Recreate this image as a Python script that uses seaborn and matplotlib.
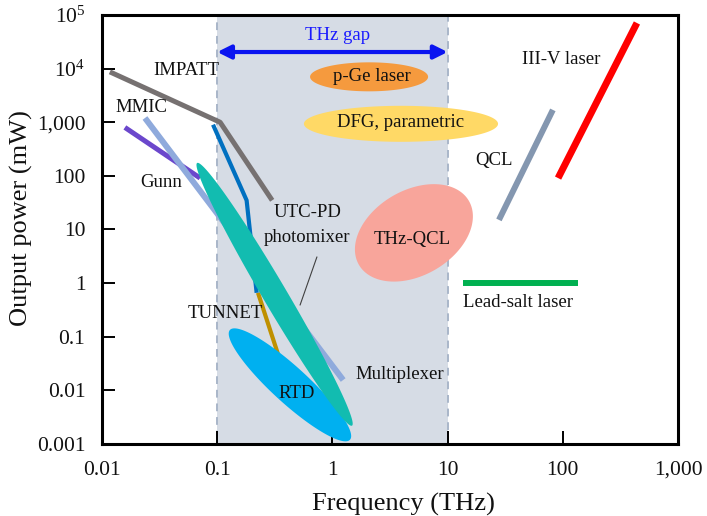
import numpy as np
import pandas as pd
import matplotlib
matplotlib.use("Agg")
import matplotlib.pyplot as plt
from matplotlib.patches import Rectangle
import seaborn as sns

# ---- source lines (frequency in THz, output power in mW) ----
impatt_freq = [0.0117, 0.106, 0.30]
impatt_power = [8700, 1000, 35]

utc_freq = [0.092, 0.18, 0.22]
utc_power = [900, 35, 0.66]

tunnet_freq = [0.226, 0.35]
tunnet_power = [0.66, 0.037]

gunn_freq = [0.0158, 0.071]
gunn_power = [800, 91]

mmic_freq = [0.0236, 1.24]
mmic_power = [1200, 0.0156]

qcl_freq = [27.9, 82]
qcl_power = [15.1, 1700]

iiiv_freq = [91, 440]
iiiv_power = [91, 71000]

leadsalt_freq = [13.6, 135]
leadsalt_power = [1.0, 1.0]

# ---- source regions: two tip points (freq, power) and a thickness ----
photomixer_tips = [(0.067, 174), (1.48, 0.0022)]
rtd_tips = [(0.129, 0.134), (1.42, 0.0012)]
thzqcl_tips = [(1.70, 2.19), (15.3, 34.2)]
pge_tips = [(0.64, 7030), (6.77, 7030)]
dfg_tips = [(0.566, 935), (27.4, 935)]

# ---- axes ----
x_ticks = [0.01, 0.1, 1, 10, 100, 1000]
x_tick_labels = ["0.01", "0.1", "1", "10", "100", "1,000"]
y_ticks = [1e-3, 1e-2, 1e-1, 1, 10, 100, 1e3, 1e4, 1e5]
y_tick_labels = ["0.001", "0.01", "0.1", "1", "10", "100", "1,000",
                 r"$\mathregular{10^4}$", r"$\mathregular{10^5}$"]
gap_range = [0.1, 10]

sns.set_theme(style="ticks")
plt.rcParams["font.family"] = ["Liberation Serif", "DejaVu Serif"]
plt.rcParams["mathtext.fontset"] = "custom"
plt.rcParams["mathtext.rm"] = "Liberation Serif"

fig = plt.figure(figsize=(7.07, 5.16), dpi=100)
ax = fig.add_axes([102 / 707, 1 - 444 / 516, 576 / 707, 429 / 516])
ax.set_xscale("log")
ax.set_yscale("log")
ax.set_xlim(0.01, 1000)
ax.set_ylim(1e-3, 1e5)

# THz gap band
ax.add_patch(Rectangle((gap_range[0], 1e-3), gap_range[1] - gap_range[0], 1e5 - 1e-3,
                       facecolor="#d6dce5", edgecolor="#a9b6c9", lw=1.4,
                       ls=(0, (4, 3)), zorder=0))


def draw_ellipse(tips, width_px, color, z):
    d1 = ax.transData.transform(tips[0])
    d2 = ax.transData.transform(tips[1])
    c = (d1 + d2) / 2
    v = d2 - d1
    half_len = np.hypot(*v) / 2
    ang = np.arctan2(v[1], v[0])
    t = np.linspace(0, 2 * np.pi, 300)
    ex = half_len * np.cos(t)
    ey = width_px / 2 * np.sin(t)
    px = c[0] + ex * np.cos(ang) - ey * np.sin(ang)
    py = c[1] + ex * np.sin(ang) + ey * np.cos(ang)
    pts = ax.transData.inverted().transform(np.column_stack([px, py]))
    ax.fill(pts[:, 0], pts[:, 1], color=color, lw=0, zorder=z)


def draw_line(freq, power, color, lw, z):
    df = pd.DataFrame({"freq": freq, "power": power})
    sns.lineplot(data=df, x="freq", y="power", color=color, linewidth=lw,
                 sort=False, ax=ax, zorder=z, solid_capstyle="butt")


draw_line(impatt_freq, impatt_power, "#767171", 3.6, 3)
draw_line(gunn_freq, gunn_power, "#6b47cc", 3.6, 3)
draw_line(mmic_freq, mmic_power, "#8faadc", 4.3, 4)
draw_line(tunnet_freq, tunnet_power, "#bf9000", 3.0, 3)
draw_ellipse(rtd_tips, 36, "#00b0f0", 5)
draw_ellipse(photomixer_tips, 24, "#12bcb0", 6)
draw_line(utc_freq, utc_power, "#0070c0", 3.0, 5.5)
draw_ellipse(thzqcl_tips, 85, "#f8a59b", 3)
draw_ellipse(pge_tips, 29, "#f59a3e", 3)
draw_ellipse(dfg_tips, 36, "#ffd966", 3)
draw_line(qcl_freq, qcl_power, "#8497b0", 4.3, 3)
draw_line(iiiv_freq, iiiv_power, "#ff0000", 5.0, 3)
draw_line(leadsalt_freq, leadsalt_power, "#00b050", 4.3, 3)

# leader line to the photomixer
ax.plot([0.734, 0.524], [3.08, 0.39], color="#404040", lw=0.8, zorder=7)

# THz gap arrow
ax.annotate("", xy=(gap_range[1], 2.04e4), xytext=(gap_range[0], 2.04e4),
            arrowprops=dict(arrowstyle="<|-|>", color="#0a14f0", lw=3,
                            mutation_scale=20, shrinkA=0, shrinkB=0), zorder=7)
ax.text(1.1, 4.07e4, "THz gap", color="#1a1aff", fontsize=13.5,
        ha="center", va="center", zorder=8)

fs = 13.5
labels = [
    (0.0536, 9100, "IMPATT", "center"),
    (0.0218, 1860, "MMIC", "center"),
    (0.0325, 74, "Gunn", "center"),
    (0.603, 20.4, "UTC-PD", "center"),
    (0.603, 6.97, "photomixer", "center"),
    (0.117, 0.266, "TUNNET", "center"),
    (0.493, 0.0086, "RTD", "center"),
    (1.60, 0.0194, "Multiplexer", "left"),
    (4.91, 6.4, "THz-QCL", "center"),
    (2.21, 7030, "p-Ge laser", "center"),
    (3.87, 975, "DFG, parametric", "center"),
    (96.4, 14600, "III-V laser", "center"),
    (25.3, 190, "QCL", "center"),
    (13.6, 0.427, "Lead-salt laser", "left"),
]
for x, y, s, ha in labels:
    ax.text(x, y, s, fontsize=fs, ha=ha, va="center", color="#111111", zorder=9)

ax.set_xticks(x_ticks)
ax.set_xticklabels(x_tick_labels)
ax.set_yticks(y_ticks)
ax.set_yticklabels(y_tick_labels)
ax.minorticks_off()
ax.tick_params(axis="both", which="major", direction="in", length=9.5, width=1.4,
               labelsize=15.5, color="black", labelcolor="#111111")
ax.tick_params(axis="x", pad=12)
ax.tick_params(axis="y", pad=12)
for sp in ax.spines.values():
    sp.set_linewidth(2.2)
    sp.set_color("black")
    sp.set_visible(True)
    sp.set_zorder(10)

ax.set_xlabel("Frequency (THz)", fontsize=19, color="#111111", va="center")
ax.set_ylabel("Output power (mW)", fontsize=19, color="#111111", va="center")
ax.xaxis.set_label_coords(0.523, -0.14)
ax.yaxis.set_label_coords(-0.14, 0.527)

fig.savefig("out.png", dpi=100)
